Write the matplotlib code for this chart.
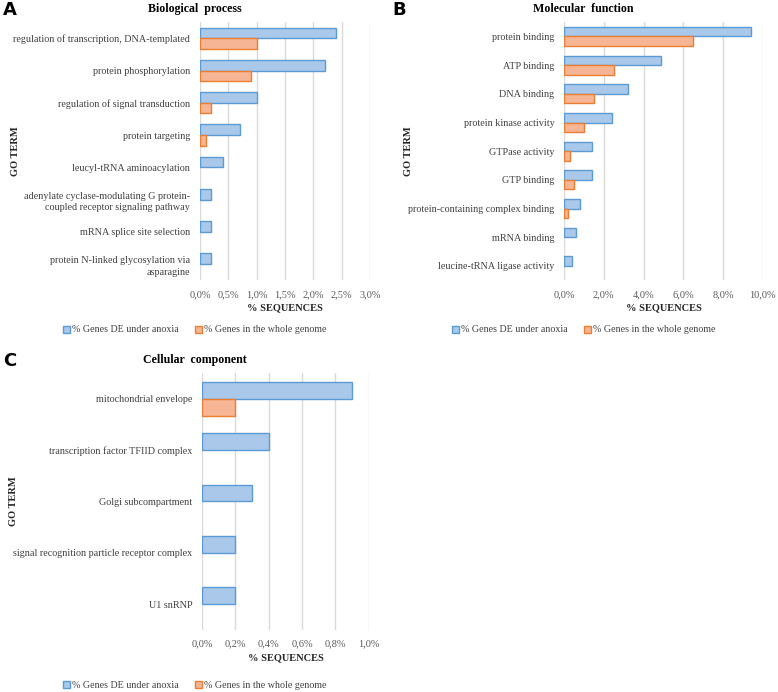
import numpy as np
import matplotlib.pyplot as plt

plt.rcParams['font.family'] = ['Liberation Serif', 'DejaVu Serif']

# Biological process
bp_terms = ['regulation of transcription, DNA-templated', 'protein phosphorylation',
            'regulation of signal transduction', 'protein targeting',
            'leucyl-tRNA aminoacylation',
            'adenylate cyclase-modulating G protein-\ncoupled receptor signaling pathway',
            'mRNA splice site selection',
            'protein N-linked glycosylation via\nasparagine']
bp_de = [2.4, 2.2, 1.0, 0.7, 0.4, 0.2, 0.2, 0.2]
bp_genome = [1.0, 0.9, 0.2, 0.1, 0, 0, 0, 0]
bp_ticks = [0, 0.5, 1.0, 1.5, 2.0, 2.5, 3.0]

# Molecular function
mf_terms = ['protein binding', 'ATP binding', 'DNA binding', 'protein kinase activity',
            'GTPase activity', 'GTP binding', 'protein-containing complex binding',
            'mRNA binding', 'leucine-tRNA ligase activity']
mf_de = [9.4, 4.9, 3.2, 2.4, 1.4, 1.4, 0.8, 0.6, 0.4]
mf_genome = [6.5, 2.5, 1.5, 1.0, 0.3, 0.5, 0.2, 0, 0]
mf_ticks = [0, 2, 4, 6, 8, 10]

# Cellular component
cc_terms = ['mitochondrial envelope', 'transcription factor TFIID complex',
            'Golgi subcompartment', 'signal recognition particle receptor complex',
            'U1 snRNP']
cc_de = [0.9, 0.4, 0.3, 0.2, 0.2]
cc_genome = [0.2, 0, 0, 0, 0]
cc_ticks = [0, 0.2, 0.4, 0.6, 0.8, 1.0]

blue_fill, blue_edge = '#A9C8EA', '#5B9BD5'
orange_fill, orange_edge = '#F6B595', '#ED7D31'


def panel(ax, terms, de, genome, ticks, title, letter, panel_x, panel_w, leg_y):
    n = len(terms)
    y = np.arange(n)
    h = 0.33
    # no outline on empty bars
    lw_de = [1 if v > 0 else 0 for v in de]
    lw_g = [1 if v > 0 else 0 for v in genome]
    ax.barh(y - h / 2, de, height=h, color=blue_fill, edgecolor=blue_edge, linewidth=lw_de,
            label='% Genes DE under anoxia', zorder=3)
    ax.barh(y + h / 2, genome, height=h, color=orange_fill, edgecolor=orange_edge, linewidth=lw_g,
            label='% Genes in the whole genome', zorder=3)
    ax.set_ylim(n - 0.5, -0.5)
    ax.set_yticks(y)
    ax.set_yticklabels(terms, fontsize=7.3, color='#404040', linespacing=1.35)
    ax.set_xlim(ticks[0], ticks[-1] * 1.001)
    ax.set_xticks(ticks)
    ax.set_xticklabels(['{:.1f}%'.format(t).replace('.', ',') for t in ticks], fontsize=7.5,
                       color='#595959')
    ax.tick_params(length=0, pad=7)
    ax.tick_params(axis='x', pad=7)
    for s in ax.spines.values():
        s.set_visible(False)
    ax.grid(axis='x', color='#D9D9D9', linewidth=1, zorder=0)
    ax.set_xlabel('% SEQUENCES', fontsize=7.5, fontweight='bold', color='#262626', labelpad=3)
    fig = ax.figure
    cx = panel_x + panel_w / 2
    top = ax.get_position().y1
    fig.text(cx, top + 0.01, title, ha='center', va='bottom', fontsize=8.6, fontweight='bold')
    fig.text(panel_x + 0.004, top + 0.005, letter, ha='left', va='bottom', fontsize=13,
             fontweight='bold', family='DejaVu Sans')
    ax.legend(loc='center', bbox_to_anchor=(cx, leg_y), bbox_transform=fig.transFigure,
              ncol=2, frameon=False, fontsize=7.2, handlelength=0.7, handleheight=0.7,
              handletextpad=0.2, columnspacing=1.6, labelcolor='#404040')


fig = plt.figure(figsize=(7.78, 6.92), dpi=100)

axA = fig.add_axes([0.257, 0.595, 0.2186, 0.373])
panel(axA, bp_terms, bp_de, bp_genome, bp_ticks, 'Biological  process', 'A',
      0.0, 0.5, 1 - 330 / 692)
axA.set_ylabel('GO TERM', fontsize=7.5, fontweight='bold', color='#262626')
axA.yaxis.set_label_coords(-1.06, 0.5)

axB = fig.add_axes([0.725, 0.595, 0.2557, 0.373])
panel(axB, mf_terms, mf_de, mf_genome, mf_ticks, 'Molecular  function', 'B',
      0.5, 0.5, 1 - 330 / 692)
axB.set_ylabel('GO TERM', fontsize=7.5, fontweight='bold', color='#262626')
axB.yaxis.set_label_coords(-0.76, 0.5)

axC = fig.add_axes([0.2596, 0.0896, 0.2147, 0.3714])
panel(axC, cc_terms, cc_de, cc_genome, cc_ticks, 'Cellular  component', 'C',
      0.0, 0.5, 1 - 685 / 692)
axC.set_ylabel('GO TERM', fontsize=7.5, fontweight='bold', color='#262626')
axC.yaxis.set_label_coords(-1.1, 0.5)

fig.savefig('out.png', dpi=100)
